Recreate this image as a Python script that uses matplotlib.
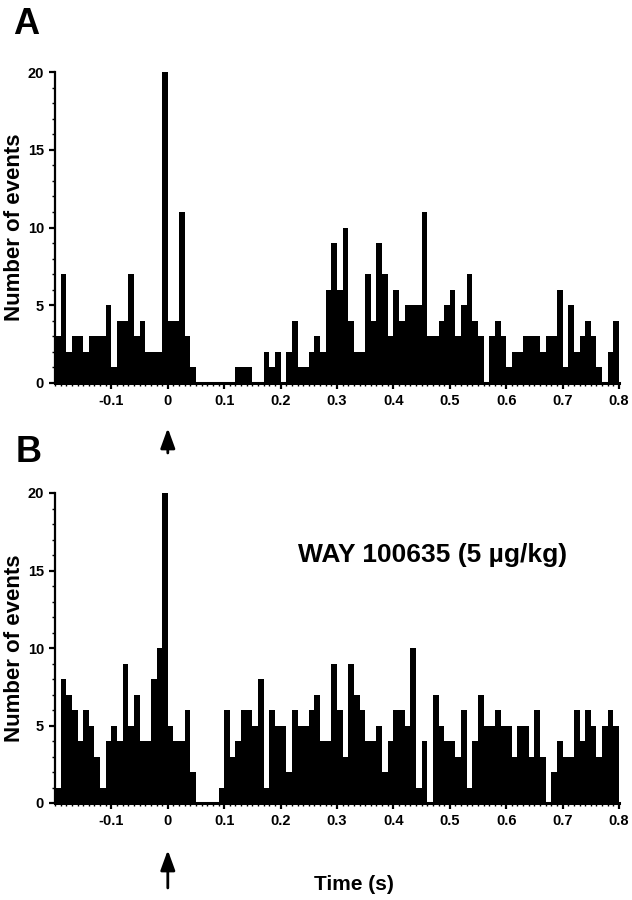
import numpy as np
import matplotlib.pyplot as plt
from matplotlib.ticker import MultipleLocator

plt.rcParams['font.family'] = ['Liberation Sans', 'DejaVu Sans']
plt.rcParams['font.weight'] = 'bold'

# bin edges: 10 ms bins from -0.2 to 0.8 s
bin_edges = np.round(np.arange(-0.2, 0.8001, 0.01), 2)

# panel A counts (one per bin)
counts_a = [3, 7, 2, 3, 3, 2, 3, 3, 3, 5,
            1, 4, 4, 7, 3, 4, 2, 2, 2, 20,
            4, 4, 11, 3, 1, 0, 0, 0, 0, 0,
            0, 0, 1, 1, 1, 0, 0, 2, 1, 2,
            0, 2, 4, 1, 1, 2, 3, 2, 6, 9,
            6, 10, 4, 2, 2, 7, 4, 9, 7, 3,
            6, 4, 5, 5, 5, 11, 3, 3, 4, 5,
            6, 3, 5, 7, 4, 3, 0, 3, 4, 3,
            1, 2, 2, 3, 3, 3, 2, 3, 3, 6,
            1, 5, 2, 3, 4, 3, 1, 0, 2, 4]

# panel B counts (WAY 100635)
counts_b = [1, 8, 7, 6, 4, 6, 5, 3, 1, 4,
            5, 4, 9, 5, 7, 4, 4, 8, 10, 20,
            5, 4, 4, 6, 2, 0, 0, 0, 0, 1,
            6, 3, 4, 6, 6, 5, 8, 1, 6, 5,
            5, 2, 6, 5, 5, 6, 7, 4, 4, 9,
            6, 3, 9, 7, 6, 4, 4, 5, 2, 4,
            6, 6, 5, 10, 1, 4, 0, 7, 5, 4,
            4, 3, 6, 1, 4, 7, 5, 5, 6, 5,
            5, 3, 5, 5, 3, 6, 3, 0, 2, 4,
            3, 3, 6, 4, 6, 5, 3, 5, 6, 5]

xticks = [-0.1, 0, 0.1, 0.2, 0.3, 0.4, 0.5, 0.6, 0.7, 0.8]
xticklabels = ['-0.1', '0', '0.1', '0.2', '0.3', '0.4', '0.5', '0.6', '0.7', '0.8']
yticks = [0, 5, 10, 15, 20]

fig = plt.figure(figsize=(6.32, 9.0), dpi=100)
axA = fig.add_axes([55/632, 1-383/900, 564/632, 311/900])
axB = fig.add_axes([55/632, 1-803/900, 564/632, 310/900])


def style(ax, counts):
    ax.stairs(counts, bin_edges, fill=True, color='black', linewidth=0)
    ax.set_xlim(-0.2, 0.8)
    ax.set_ylim(0, 20)
    ax.spines['top'].set_visible(False)
    ax.spines['right'].set_visible(False)
    ax.spines['left'].set_linewidth(1.6)
    ax.spines['bottom'].set_linewidth(2.2)
    ax.set_xticks(xticks)
    ax.set_xticklabels(xticklabels)
    ax.set_yticks(yticks)
    ax.xaxis.set_minor_locator(MultipleLocator(0.01))
    ax.yaxis.set_minor_locator(MultipleLocator(1))
    ax.tick_params(which='major', length=4, width=1.6, labelsize=10.5, pad=4)
    ax.tick_params(which='minor', length=2.2, width=1.0)
    for lab in ax.get_xticklabels() + ax.get_yticklabels():
        lab.set_fontweight('bold')


style(axA, counts_a)
style(axB, counts_b)

# y labels
fig.text(15/632, 1-227/900, 'Number of events', rotation=90, fontsize=16,
         fontweight='bold', ha='center', va='center')
fig.text(15/632, 1-648/900, 'Number of events', rotation=90, fontsize=16,
         fontweight='bold', ha='center', va='center')

# stimulus arrows under t = 0
arrow = dict(arrowstyle='-|>,head_length=0.55,head_width=0.2', color='black',
             lw=2.0, mutation_scale=22, shrinkA=0, shrinkB=0)
axA.annotate('', xy=(0, -0.145), xytext=(0, -0.225),
             xycoords=('data', 'axes fraction'),
             arrowprops=arrow, annotation_clip=False)
axB.annotate('', xy=(0, -0.152), xytext=(0, -0.274),
             xycoords=('data', 'axes fraction'),
             arrowprops=arrow, annotation_clip=False)

axB.text(0.67, 0.80, 'WAY 100635 (5 µg/kg)', transform=axB.transAxes,
         fontsize=19, fontweight='bold', ha='center', va='center')
fig.text(354/632, 1-884/900, 'Time (s)', fontsize=15, fontweight='bold',
         ha='center', va='center')

fig.text(13/632, 1-25/900, 'A', fontsize=26, fontweight='bold', va='center')
fig.text(16/632, 1-452/900, 'B', fontsize=26, fontweight='bold', va='center')

fig.savefig('out.png', dpi=100)
